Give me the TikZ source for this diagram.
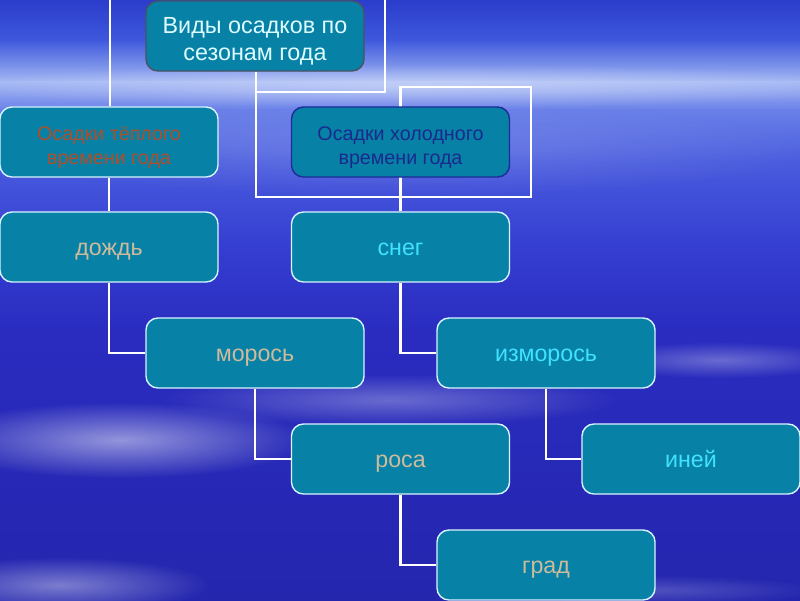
\documentclass[tikz,border=0pt]{standalone}
\usepackage{fontspec}
\setmainfont{Liberation Sans}
\usetikzlibrary{positioning,fadings}
\definecolor{skyA}{HTML}{2A3CCB}
\definecolor{skyB}{HTML}{3E58DC}
\definecolor{skyC}{HTML}{A4B8F4}
\definecolor{skyD}{HTML}{6A80E8}
\definecolor{skyE}{HTML}{4A5CDE}
\definecolor{skyF}{HTML}{3640D2}
\definecolor{skyG}{HTML}{2A2CC0}
\definecolor{skyH}{HTML}{2426AE}
\definecolor{boxfill}{HTML}{0781A6}
\definecolor{boxline}{HTML}{D8F4FF}
\definecolor{toptext}{HTML}{DDFCFF}
\definecolor{warmtext}{HTML}{B04E2A}
\definecolor{coldtext}{HTML}{1A2A8C}
\definecolor{coldline}{HTML}{1C2C98}
\definecolor{topline}{HTML}{4A5264}
\definecolor{sandtext}{HTML}{CDBB9C}
\definecolor{icetext}{HTML}{40E2FF}
\tikzfading[name=fuzzy, inner color=transparent!0, outer color=transparent!100]
\pgfdeclarelayer{sky}
\pgfdeclarelayer{links}
\pgfsetlayers{sky,links,main}
\newcommand\twolines[2]{\begin{tabular}{@{}c@{}}#1\\#2\end{tabular}}
\begin{document}
\begin{tikzpicture}[x=0.025cm, y=-0.025cm, line join=round, >=stealth,
	box/.style={draw=boxline, fill=boxfill, line width=1pt, rounded corners=0.3cm,
		minimum width=5.45cm, minimum height=1.75cm, inner sep=0pt,
		text height=11.6pt, text depth=0pt, font=\fontsize{16.5}{19}\selectfont},
	big/.style={text height=17pt, font=\fontsize{16.6}{19.2}\selectfont},
	small/.style={text height=15.8pt, font=\fontsize{14}{17}\selectfont},
	link/.style={draw=white, line width=1.7pt}]
	\useasboundingbox (0,0) rectangle (800,600);
	% sky
	\begin{pgfonlayer}{sky}
	\foreach \ya/\yb/\ca/\cb in {0/40/skyA/skyB, 40/82/skyB/skyC, 82/110/skyC/skyD,
		110/160/skyD/skyE, 160/240/skyE/skyF, 240/330/skyF/skyG, 330/600/skyG/skyH}
		\shade[top color=\ca, bottom color=\cb] (0,\ya-.5) rectangle (800,\yb+.5);
	\fill[white, opacity=.35, path fading=fuzzy] (420,86) ellipse (480 and 22);
	\fill[white, opacity=.15, path fading=fuzzy] (400,150) ellipse (430 and 45);
	\fill[white, opacity=.5, path fading=fuzzy] (120,440) ellipse (190 and 38);
	\fill[white, opacity=.3, path fading=fuzzy] (390,400) ellipse (230 and 26);
	\fill[white, opacity=.3, path fading=fuzzy] (720,360) ellipse (130 and 18);
	\fill[white, opacity=.4, path fading=fuzzy] (60,585) ellipse (150 and 28);
	\fill[white, opacity=.2, path fading=fuzzy] (650,590) ellipse (170 and 15);
	\end{pgfonlayer}
	% boxes
	\path
	(255,36) node[box, big, draw=topline, text=toptext] (top) {\twolines{Виды осадков по}{сезонам года}}
	(109,142) node[box, small, text=warmtext] (warm) {\twolines{Осадки тёплого}{времени года}}
	(400.5,142) node[box, small, draw=coldline, text=coldtext] (cold) {\twolines{Осадки холодного}{времени года}}
	(109,247) node[box, text=sandtext] (rain) {дождь}
	(400.5,247) node[box, text=icetext] (snow) {снег}
	(255,353) node[box, text=sandtext] (drizzle) {морось}
	(546,353) node[box, text=icetext] (rime) {изморось}
	(400.5,459) node[box, text=sandtext] (dew) {роса}
	(691,459) node[box, text=icetext] (frost) {иней}
	(546,565) node[box, text=sandtext] (hail) {град}
		;
	\path
	(110,0) coordinate (W)
	(385,0) coordinate (R)
	(256,92) coordinate (S)
	(256,197) coordinate (T)
	(531,87) coordinate (U)
		;
	\begin{pgfonlayer}{links}
	\draw[link] (W) -- (W |- warm.north);
	\draw[link] (warm.south) -- (rain.north);
	\draw[link] (R) |- (S);
	\draw[link] (top.south -| T) -- (T) -| (U) -| (snow.north);
	\draw[link] (rain.south) |- (drizzle.west);
	\draw[link] (snow.south) |- (rime.west);
	\draw[link] (drizzle.south) |- (dew.west);
	\draw[link] (rime.south) |- (frost.west);
	\draw[link] (dew.south) |- (hail.west);
	\end{pgfonlayer}
\end{tikzpicture}
\end{document}
